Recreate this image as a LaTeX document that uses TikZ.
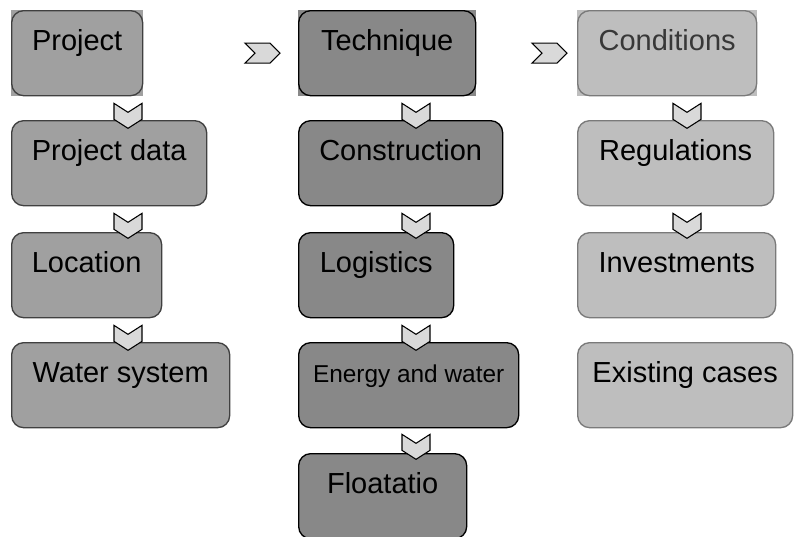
\documentclass[tikz,border=0pt]{standalone}
\usepackage{fontspec}
\setmainfont{Liberation Sans}
\usetikzlibrary{positioning,calc,backgrounds}
\definecolor{fillA}{HTML}{A0A0A0}
\definecolor{fillB}{HTML}{888888}
\definecolor{fillC}{HTML}{BEBEBE}
\definecolor{edgeA}{HTML}{404040}
\definecolor{edgeC}{HTML}{7A7A7A}
\definecolor{condtext}{HTML}{383838}
\definecolor{chevfill}{HTML}{D9D9D9}
\tikzset{
  stage/.style={draw, rounded corners=9pt, line width=1pt, anchor=north west,
    inner sep=0pt, minimum height=63.75pt, text height=30pt, text depth=33.75pt,
    font=\fontsize{21.75pt}{26pt}\selectfont},
  wd/.style={minimum width=#1*0.75pt},
  colA/.style={fill=fillA, draw=edgeA},
  colB/.style={fill=fillB, draw=black},
  colC/.style={fill=fillC, draw=edgeC},
  chev/.style={draw=black, fill=chevfill, line width=0.8pt, line join=miter},
  % pics do not take the picture's yscale, so y runs upwards here
  chevdown/.pic={\draw[chev] (-14,0) -- (0,-9) -- (14,0) -- (14,-16) -- (0,-25) -- (-14,-16) -- cycle;},
  chevright/.pic={\draw[chev] (0,-10) -- (25,-10) -- (35,0) -- (25,10) -- (0,10) -- (10,0) -- cycle;}
}
\begin{document}
\begin{tikzpicture}[x=0.75pt,y=0.75pt,yscale=-1,xscale=1]
    \useasboundingbox (0,0) rectangle (795,536);

    % column x of the down chevrons
    \coordinate (colA) at (128,0);
    \coordinate (colB) at (416,0);
    \coordinate (colC) at (687,0);

    % Column: project
    \node (proj) [stage, colA, wd=131] at (11,10) {Project};
    \node (pdata) [stage, colA, wd=195] at (11,120) {Project data};
    \node (loc) [stage, colA, wd=150] at (11,232) {Location};
    \node (water) [stage, colA, wd=218] at (11,342) {Water system};

    % Column: technique
    \node (tech) [stage, colB, wd=177] at (298,10) {Technique};
    \node (constr) [stage, colB, wd=204] at (298,120) {Construction};
    \node (logist) [stage, colB, wd=155] at (298,232) {Logistics};
    \node (energy) [stage, colB, wd=220, font=\fontsize{18.3pt}{22pt}\selectfont] at (298,342) {Energy and water};
    \node (float) [stage, colB, wd=168] at (298,453) {Floatatio};

    % Column: conditions
    \node (cond) [stage, colC, wd=179, text=condtext] at (577,10) {Conditions};
    \node (regul) [stage, colC, wd=196] at (577,120) {Regulations};
    \node (invest) [stage, colC, wd=198] at (577,232) {Investments};
    \node (exist) [stage, colC, wd=215] at (577,342) {Existing cases};

    % square fill behind the top row
    \begin{scope}[on background layer]
    \fill[fillA] (proj.north west) rectangle (proj.south east);
    \fill[fillB] (tech.north west) rectangle (tech.south east);
    \fill[fillC] (cond.north west) rectangle (cond.south east);
    \end{scope}

    % Chevrons between columns
    \pic at ($(tech.west)+(-53,0)$) {chevright};
    \pic at ($(cond.west)+(-45,0)$) {chevright};

    % Chevrons down
    \pic at ($(colA |- proj.south)+(0,7)$) {chevdown};
    \pic at ($(colA |- pdata.south)+(0,7)$) {chevdown};
    \pic at ($(colA |- loc.south)+(0,7)$) {chevdown};
    \pic at ($(colB |- tech.south)+(0,7)$) {chevdown};
    \pic at ($(colB |- constr.south)+(0,7)$) {chevdown};
    \pic at ($(colB |- logist.south)+(0,7)$) {chevdown};
    \pic at ($(colB |- energy.south)+(0,6)$) {chevdown};
    \pic at ($(colC |- cond.south)+(0,7)$) {chevdown};
    \pic at ($(colC |- regul.south)+(0,7)$) {chevdown};

\end{tikzpicture}
\end{document}
